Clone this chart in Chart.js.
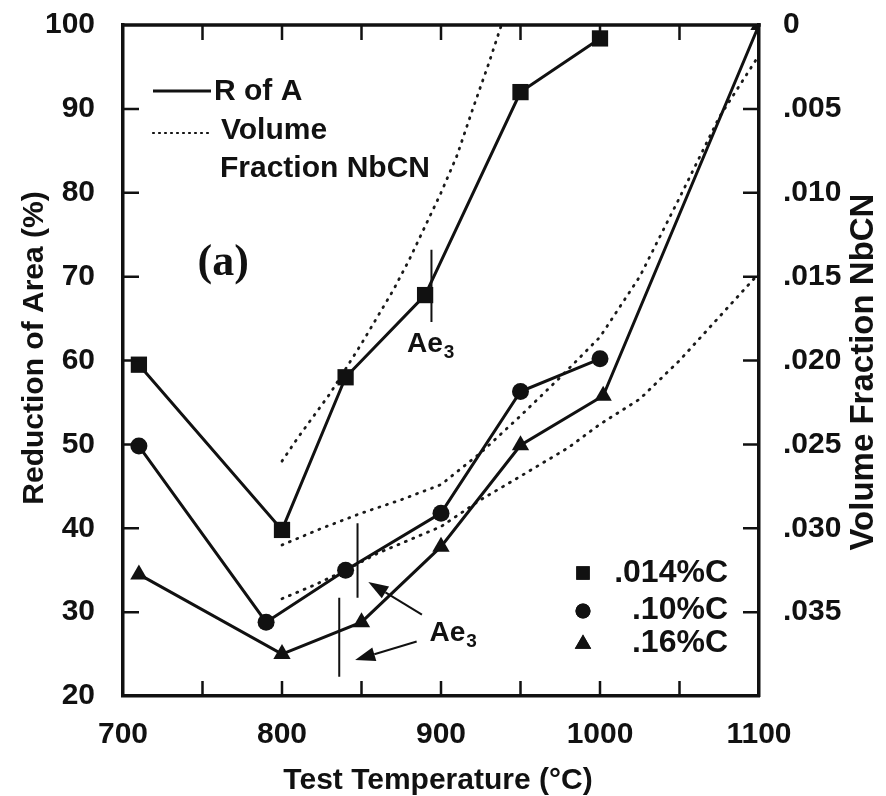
<!DOCTYPE html>
<html>
<head>
<meta charset="utf-8">
<script src="https://cdn.jsdelivr.net/npm/chart.js@4.4.1/dist/chart.umd.min.js"></script>
<style>
  html, body { margin: 0; padding: 0; background: #fff; }
  #wrap { width: 886px; height: 796px; }
</style>
</head>
<body>
<div id="wrap"><canvas id="grafico" width="886" height="796"></canvas></div>
<script>
// Reduction of area (%) per steel
const tempC014 = [710, 800, 840, 890, 950, 1000];
const raC014   = [59.5, 39.8, 58, 67.8, 92, 98.4];
const tempC10  = [710, 790, 840, 900, 950, 1000];
const raC10    = [49.8, 28.8, 35, 41.8, 56.3, 60.2];
const tempC16  = [710, 800, 850, 900, 950, 1002, 1100];
const raC16    = [34.5, 25, 28.8, 37.8, 49.9, 55.8, 100];

// Volume fraction NbCN (right axis, reversed)
const tempVfA = [800, 810, 820, 830, 840, 850, 860, 870, 880, 890, 900, 910, 920, 930, 938];
const vfA     = [0.026, 0.0246, 0.0233, 0.022, 0.0205, 0.019, 0.0174, 0.0158, 0.014, 0.012, 0.010, 0.0078, 0.005, 0.0023, 0];
const tempVfB = [800, 825, 850, 875, 900, 925, 950, 975, 1000, 1025, 1050, 1075, 1100];
const vfB     = [0.031, 0.030, 0.0291, 0.0283, 0.0274, 0.0255, 0.0233, 0.021, 0.0186, 0.015, 0.0103, 0.0055, 0.0018];
const tempVfC = [800, 820, 840, 860, 880, 900, 925, 950, 980, 1000, 1025, 1050, 1075, 1100];
const vfC     = [0.0342, 0.0334, 0.0325, 0.0315, 0.0307, 0.0299, 0.0283, 0.0269, 0.0252, 0.0238, 0.0223, 0.020, 0.0174, 0.0148];

// ticks
const rightTickLabels = ['0', '.005', '.010', '.015', '.020', '.025', '.030', '.035', ''];
const xTickMarks = [750, 800, 850, 900, 950, 1000, 1050];
const leftTickMarks = [30, 40, 50, 60, 70, 80, 90];
const rightTickMarks = [0.005, 0.010, 0.015, 0.020, 0.025, 0.030, 0.035];

const FONT = '"Liberation Sans", Arial, sans-serif';
const INK = '#111';

const pares = (xs, ys) => xs.map((x, i) => ({ x, y: ys[i] }));

function solido(label, xs, ys, estilo, raio) {
  return {
    label, data: pares(xs, ys), yAxisID: 'y',
    borderColor: INK, backgroundColor: INK, borderWidth: 3,
    pointStyle: estilo, pointRadius: raio, pointBorderWidth: 0, tension: 0
  };
}
function pontilhado(label, xs, ys) {
  return {
    label, data: pares(xs, ys), yAxisID: 'y2',
    borderColor: '#1a1a1a', borderWidth: 2.8, borderDash: [1, 7], borderCapStyle: 'round',
    pointRadius: 0, tension: 0
  };
}

function ae3(ctx, x, y) {
  ctx.font = 'bold 28px ' + FONT;
  ctx.textAlign = 'left';
  ctx.fillText('Ae', x, y);
  const w = ctx.measureText('Ae').width;
  ctx.font = 'bold 19px ' + FONT;
  ctx.fillText('3', x + w + 1, y + 6);
}

function seta(ctx, x1, y1, x2, y2) {
  const ang = Math.atan2(y2 - y1, x2 - x1);
  const L = 20, W = 7;
  const bx = x2 - L * Math.cos(ang), by = y2 - L * Math.sin(ang);
  ctx.beginPath();
  ctx.moveTo(x1, y1); ctx.lineTo(bx, by); ctx.stroke();
  ctx.beginPath();
  ctx.moveTo(x2, y2);
  ctx.lineTo(bx + W * Math.sin(ang), by - W * Math.cos(ang));
  ctx.lineTo(bx - W * Math.sin(ang), by + W * Math.cos(ang));
  ctx.closePath(); ctx.fill();
}

const anotacoes = {
  id: 'anotacoes',
  afterDraw(chart) {
    const { ctx, chartArea: a, scales: { x, y, y2 } } = chart;
    const px = v => x.getPixelForValue(v);
    const py = v => y.getPixelForValue(v);
    const py2 = v => y2.getPixelForValue(v);
    ctx.save();
    ctx.strokeStyle = INK; ctx.fillStyle = INK;

    // top border + inward ticks
    ctx.lineWidth = 3.5;
    ctx.beginPath(); ctx.moveTo(a.left - 1.7, a.top); ctx.lineTo(a.right + 1.7, a.top); ctx.stroke();
    ctx.lineWidth = 2.5;
    ctx.beginPath();
    xTickMarks.forEach(t => {
      ctx.moveTo(px(t), a.bottom); ctx.lineTo(px(t), a.bottom - 15);
      ctx.moveTo(px(t), a.top); ctx.lineTo(px(t), a.top + 15);
    });
    leftTickMarks.forEach(v => { ctx.moveTo(a.left, py(v)); ctx.lineTo(a.left + 16, py(v)); });
    rightTickMarks.forEach(v => { ctx.moveTo(a.right, py2(v)); ctx.lineTo(a.right - 16, py2(v)); });
    ctx.stroke();

    // Ae3 vertical lines
    ctx.lineWidth = 2;
    ctx.beginPath();
    ctx.moveTo(px(894), py(64.6)); ctx.lineTo(px(894), py(73.2));
    ctx.moveTo(px(847.5), py(31.7)); ctx.lineTo(px(847.5), py(40.6));
    ctx.moveTo(px(836), py(22.3)); ctx.lineTo(px(836), py(31.7));
    ctx.stroke();

    // arrows
    seta(ctx, px(888), py(29.7), px(854.3), py(33.6));
    seta(ctx, px(884.7), py(26.5), px(846), py(24.3));

    ae3(ctx, px(878.6), py(61));
    ae3(ctx, px(892.8), py(26.5));

    // (a)
    ctx.font = 'bold 44px "Liberation Serif", "Times New Roman", serif';
    ctx.textAlign = 'center';
    ctx.fillText('(a)', px(763), py(70.2));

    // line legend (top left)
    ctx.lineWidth = 3;
    ctx.beginPath(); ctx.moveTo(a.left + 30, 91); ctx.lineTo(a.left + 88, 91); ctx.stroke();
    ctx.lineWidth = 2.2; ctx.setLineDash([1, 5]); ctx.lineCap = 'round';
    ctx.beginPath(); ctx.moveTo(a.left + 30, 133); ctx.lineTo(a.left + 86, 133); ctx.stroke();
    ctx.setLineDash([]); ctx.lineCap = 'butt';
    ctx.font = 'bold 30px ' + FONT;
    ctx.textAlign = 'left';
    ctx.fillText('R of A', a.left + 91, 100);
    ctx.fillText('Volume', a.left + 98, 139);
    ctx.fillText('Fraction NbCN', a.left + 97, 177);

    // marker legend (bottom right)
    const itens = [['rect', 9.5, '.014%C', 573, 582], ['circle', 7.5, '.10%C', 611, 619], ['triangle', 9.5, '.16%C', 644, 652]];
    ctx.font = 'bold 32px ' + FONT;
    ctx.textAlign = 'right';
    itens.forEach(([est, r, txt, ym, yb]) => {
      Chart.helpers.drawPoint(ctx, { pointStyle: est, radius: r, borderWidth: 0 }, 583, ym);
      ctx.fill();
      ctx.fillText(txt, 728, yb);
    });

    // axis titles
    ctx.font = 'bold 30px ' + FONT;
    ctx.textAlign = 'center';
    ctx.textBaseline = 'middle';
    ctx.save(); ctx.translate(35, 348); ctx.rotate(-Math.PI / 2);
    ctx.fillText('Reduction of Area (%)', 0, 0); ctx.restore();
    ctx.font = 'bold 33px ' + FONT;
    ctx.save(); ctx.translate(864, 372); ctx.rotate(-Math.PI / 2);
    ctx.fillText('Volume Fraction NbCN', 0, 0); ctx.restore();
    ctx.font = 'bold 30px ' + FONT;
    ctx.textBaseline = 'alphabetic';
    ctx.fillText('Test Temperature (\u00B0C)', 438, 789);
    ctx.restore();
  }
};

const tickFont = { family: FONT, size: 30, weight: 'bold', lineHeight: 1 };
const semPadding = s => { s.paddingTop = 0; s.paddingBottom = 0; s.paddingLeft = 0; s.paddingRight = 0; };

new Chart(document.getElementById('grafico'), {
  type: 'line',
  data: {
    datasets: [
      solido('.014%C', tempC014, raC014, 'rect', 11.5),
      solido('.10%C', tempC10, raC10, 'circle', 8.5),
      solido('.16%C', tempC16, raC16, 'triangle', 10),
      pontilhado('NbCN .014%C', tempVfA, vfA),
      pontilhado('NbCN .10%C', tempVfB, vfB),
      pontilhado('NbCN .16%C', tempVfC, vfC)
    ]
  },
  options: {
    responsive: false,
    animation: false,
    layout: { padding: { top: 25, left: 0, right: 0, bottom: 0 } },
    plugins: { legend: { display: false }, tooltip: { enabled: false } },
    scales: {
      x: {
        type: 'linear', min: 700, max: 1100,
        ticks: { stepSize: 100, callback: v => String(v), font: tickFont, color: INK, padding: 24, maxRotation: 0 },
        grid: { drawOnChartArea: false, drawTicks: false },
        border: { display: true, width: 3.5, color: INK },
        afterFit(s) { s.height = 100; semPadding(s); }
      },
      y: {
        position: 'left', min: 20, max: 100,
        ticks: { stepSize: 10, font: tickFont, color: INK, padding: 28 },
        grid: { drawOnChartArea: false, drawTicks: false },
        border: { display: true, width: 3.5, color: INK },
        afterFit(s) { s.width = 123; semPadding(s); }
      },
      y2: {
        position: 'right', min: 0, max: 0.04, reverse: true,
        ticks: { stepSize: 0.005, font: tickFont, color: INK, padding: 24,
                 callback: v => rightTickLabels[Math.round(v / 0.005)] },
        grid: { drawOnChartArea: false, drawTicks: false },
        border: { display: true, width: 3.5, color: INK },
        afterFit(s) { s.width = 127; semPadding(s); }
      }
    }
  },
  plugins: [anotacoes]
});
</script>
</body>
</html>
